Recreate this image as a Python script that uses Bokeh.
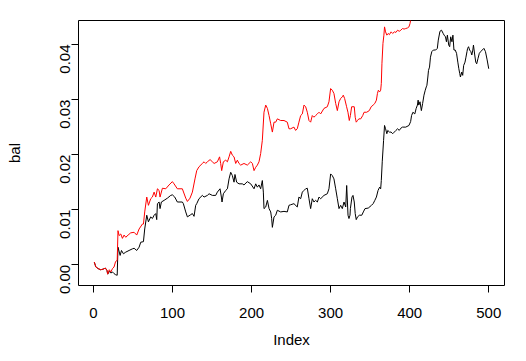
import math
from bokeh.plotting import figure
from bokeh.models import Range1d, FixedTicker, PrintfTickFormatter
from bokeh.embed import file_html
from bokeh.resources import INLINE

# ---- data ----
x_ticks = [0, 100, 200, 300, 400, 500]
y_ticks = [0.00, 0.01, 0.02, 0.03, 0.04]

red_idx = [1, 3, 6, 9, 12, 15, 17, 18, 20, 22, 24, 26, 28, 30, 31, 32.4, 34.5, 36.6, 38.7, 40.8,
           43.8, 47.1, 51.4, 54.7, 57.7, 61.9, 63.2, 64.8, 67.4, 69.5, 72.4, 74.5, 76.7, 78.8, 80.9,
           83.0, 84.2, 87.2, 91.4, 95.6, 99.8, 101.9, 106.1, 112.4, 116.7, 118.8, 122.1, 125.1, 128.4,
           130.6, 133.5, 137.7, 139.9, 142.0, 144.1, 147.5, 150.4, 152.6, 156.7, 159.5, 160.9, 162.2,
           164.3, 167.3, 169.4, 171.5, 173.6, 175.7, 177.8, 179.9, 182.0, 184.1, 186.2, 190.4, 194.6,
           198.9, 201.0, 203.1, 205.2, 207.3, 209.4, 211.5, 213.6, 215.7, 217.9, 220.0, 222.1, 224.2,
           226.3, 228.4, 230.5, 232.6, 236.8, 241.0, 245.2, 247.3, 249.4, 253.6, 255.7, 257.8, 259.9,
           262.1, 264.2, 266.3, 268.4, 270.5, 272.6, 274.7, 276.8, 278.9, 281.0, 283.2, 285.3, 287.4,
           291.6, 295.8, 297.9, 300.0, 302.1, 304.2, 306.4, 308.5, 310.6, 312.7, 314.8, 316.0, 317.7,
           320.2, 321.9, 323.6, 325.0, 326.6, 328.3, 329.9, 331.1, 332.4, 334.0, 335.7, 338.1, 340.6,
           342.3, 345.6, 348.9, 351.3, 353.8, 355.9, 357.9, 359.2, 360.4, 362.0, 363.3, 364.1, 364.9,
           366.2, 367.4, 368.2, 369.5, 371.1, 372.8, 374.4, 376.5, 378.5, 380.6, 382.6, 384.7, 386.8,
           388.8, 390.9, 392.9, 395.0, 397.1, 399.1, 400.4, 401.6, 404.0]
red_val = [0.0005, -0.0004, -0.0007, -0.0009, -0.0008, -0.0006, -0.0010, -0.0017, -0.0009, -0.0013,
           -0.0007, -0.0004, 0.0006, 0.0008, 0.0062, 0.0053, 0.0056, 0.0048, 0.0054, 0.0050,
           0.0054, 0.0058, 0.0059, 0.0054, 0.0065, 0.0074, 0.0074, 0.0096, 0.0123, 0.0108, 0.0120,
           0.0123, 0.0132, 0.0123, 0.0138, 0.0135, 0.0123, 0.0139, 0.0138, 0.0145, 0.0151, 0.0147,
           0.0138, 0.0138, 0.0121, 0.0115, 0.0121, 0.0132, 0.0156, 0.0171, 0.0178, 0.0184, 0.0187,
           0.0184, 0.0187, 0.0191, 0.0187, 0.0184, 0.0187, 0.0196, 0.0184, 0.0171, 0.0187, 0.0190,
           0.0187, 0.0196, 0.0206, 0.0199, 0.0196, 0.0184, 0.0190, 0.0184, 0.0181, 0.0184, 0.0181,
           0.0187, 0.0184, 0.0171, 0.0177, 0.0181, 0.0187, 0.0202, 0.0226, 0.0277, 0.0290, 0.0284,
           0.0271, 0.0256, 0.0241, 0.0259, 0.0259, 0.0265, 0.0262, 0.0262, 0.0259, 0.0247, 0.0247,
           0.0250, 0.0244, 0.0247, 0.0259, 0.0271, 0.0274, 0.0290, 0.0287, 0.0277, 0.0262, 0.0259,
           0.0271, 0.0268, 0.0271, 0.0274, 0.0277, 0.0274, 0.0284, 0.0287, 0.0296, 0.0320, 0.0317,
           0.0311, 0.0293, 0.0280, 0.0296, 0.0302, 0.0305, 0.0308, 0.0302, 0.0287, 0.0277, 0.0262,
           0.0271, 0.0287, 0.0287, 0.0287, 0.0268, 0.0259, 0.0262, 0.0265, 0.0265, 0.0271, 0.0277,
           0.0277, 0.0280, 0.0287, 0.0290, 0.0293, 0.0299, 0.0311, 0.0317, 0.0314, 0.0317, 0.0329,
           0.0365, 0.0402, 0.0417, 0.0432, 0.0423, 0.0417, 0.0420, 0.0418, 0.0423, 0.0420, 0.0423,
           0.0422, 0.0426, 0.0424, 0.0426, 0.0429, 0.0428, 0.0429, 0.0430, 0.0432, 0.0438, 0.0447,
           0.0460]

black_idx = [1, 3, 6, 9, 12, 15, 17, 18, 20, 22, 24, 26, 28, 30, 31, 33.7, 35.4, 37.9, 40.8, 45.0,
             49.3, 51.4, 54.7, 57.7, 59.8, 63.2, 64.8, 67.4, 69.5, 72.4, 74.5, 76.7, 78.8, 80.0, 80.9,
             83.0, 84.2, 85.9, 89.3, 93.5, 97.7, 99.8, 102.8, 106.1, 112.4, 113.7, 116.7, 118.8, 123.0,
             125.1, 127.2, 129.3, 130.6, 133.5, 137.7, 139.9, 144.1, 146.2, 150.4, 154.6, 156.7, 160.1,
             161.8, 162.6, 164.3, 167.3, 169.4, 171.5, 173.6, 175.7, 177.8, 179.0, 181.1, 184.1, 188.3,
             190.4, 194.6, 198.9, 203.1, 205.2, 207.3, 209.4, 211.5, 213.6, 214.9, 215.7, 217.9, 220.0,
             222.1, 224.2, 225.4, 226.3, 228.4, 230.5, 232.6, 236.8, 241.0, 245.2, 247.3, 249.4, 253.6,
             257.8, 259.9, 262.1, 264.2, 266.3, 268.4, 270.5, 272.6, 274.7, 276.8, 278.9, 281.0, 283.2,
             285.3, 287.4, 291.6, 295.8, 297.9, 300.0, 302.1, 304.2, 306.4, 308.5, 310.6, 312.7, 314.8,
             316.9, 319.1, 320.3, 322.0, 323.2, 324.5, 325.0, 327.0, 328.3, 329.9, 331.1, 332.4, 334.0,
             336.5, 339.4, 341.4, 343.5, 347.6, 351.7, 353.8, 355.9, 357.9, 360.0, 362.0, 363.3, 364.1,
             365.3, 367.0, 368.2, 369.5, 371.1, 372.3, 374.4, 376.5, 378.5, 380.6, 382.6, 384.7, 386.8,
             388.8, 390.9, 395.0, 399.1, 401.2, 402.4, 404.1, 406.5, 408.2, 409.8, 410.7, 411.5, 413.1,
             414.8, 416.4, 418.1, 419.7, 421.0, 421.8, 423.0, 423.8, 425.1, 426.3, 428.0, 430.0, 432.9,
             435.0, 436.2, 438.3, 440.3, 442.4, 443.6, 445.3, 446.5, 447.7, 449.4, 450.6, 451.9, 453.5,
             454.7, 456.0, 457.6, 459.3, 460.9, 462.2, 463.4, 464.2, 465.9, 467.1, 468.3, 470.0, 471.2,
             472.5, 473.3, 474.5, 475.8, 477.4, 478.6, 479.9, 480.7, 482.3, 483.6, 484.8, 486.5, 488.1,
             489.8, 491.8, 493.9, 495.9, 498.0, 500.0]
black_val = [0.0005, -0.0004, -0.0007, -0.0009, -0.0008, -0.0006, -0.0010, -0.0017, -0.0012, -0.0015,
             -0.0013, -0.0016, -0.0018, -0.0019, 0.0032, 0.0017, 0.0026, 0.0020, 0.0023, 0.0026,
             0.0029, 0.0030, 0.0026, 0.0032, 0.0041, 0.0042, 0.0065, 0.0090, 0.0078, 0.0087, 0.0084,
             0.0090, 0.0093, 0.0082, 0.0111, 0.0114, 0.0102, 0.0114, 0.0117, 0.0121, 0.0126, 0.0127,
             0.0123, 0.0114, 0.0114, 0.0111, 0.0096, 0.0087, 0.0091, 0.0093, 0.0088, 0.0108, 0.0111,
             0.0120, 0.0126, 0.0123, 0.0126, 0.0129, 0.0126, 0.0126, 0.0132, 0.0138, 0.0123, 0.0114,
             0.0129, 0.0135, 0.0138, 0.0156, 0.0168, 0.0162, 0.0150, 0.0164, 0.0150, 0.0147, 0.0147,
             0.0145, 0.0151, 0.0147, 0.0138, 0.0147, 0.0141, 0.0145, 0.0138, 0.0153, 0.0132, 0.0102,
             0.0105, 0.0117, 0.0102, 0.0096, 0.0084, 0.0068, 0.0087, 0.0090, 0.0099, 0.0096, 0.0097,
             0.0096, 0.0108, 0.0109, 0.0111, 0.0105, 0.0123, 0.0120, 0.0132, 0.0135, 0.0138, 0.0139,
             0.0120, 0.0102, 0.0120, 0.0114, 0.0117, 0.0114, 0.0123, 0.0120, 0.0126, 0.0129, 0.0138,
             0.0165, 0.0162, 0.0156, 0.0138, 0.0120, 0.0102, 0.0108, 0.0102, 0.0114, 0.0105, 0.0144,
             0.0090, 0.0084, 0.0090, 0.0102, 0.0123, 0.0126, 0.0114, 0.0093, 0.0082, 0.0087, 0.0090,
             0.0090, 0.0096, 0.0102, 0.0103, 0.0108, 0.0111, 0.0117, 0.0123, 0.0135, 0.0141, 0.0138,
             0.0153, 0.0187, 0.0226, 0.0253, 0.0247, 0.0238, 0.0244, 0.0241, 0.0241, 0.0238, 0.0241,
             0.0244, 0.0247, 0.0244, 0.0248, 0.0250, 0.0250, 0.0253, 0.0260, 0.0271, 0.0277, 0.0274,
             0.0284, 0.0290, 0.0299, 0.0290, 0.0296, 0.0280, 0.0293, 0.0308, 0.0317, 0.0323, 0.0326,
             0.0341, 0.0353, 0.0359, 0.0377, 0.0387, 0.0390, 0.0390, 0.0393, 0.0408, 0.0424, 0.0426,
             0.0420, 0.0417, 0.0414, 0.0405, 0.0417, 0.0399, 0.0396, 0.0414, 0.0405, 0.0417, 0.0390,
             0.0390, 0.0384, 0.0368, 0.0356, 0.0347, 0.0341, 0.0350, 0.0344, 0.0362, 0.0368, 0.0377,
             0.0387, 0.0393, 0.0396, 0.0390, 0.0387, 0.0381, 0.0390, 0.0399, 0.0381, 0.0368, 0.0365,
             0.0375, 0.0384, 0.0387, 0.0390, 0.0393, 0.0387, 0.0372, 0.0356]

FONT = "Liberation Sans"

p = figure(width=526, height=361, output_backend="svg", toolbar_location=None,
           x_range=Range1d(-18.96, 519.96), y_range=Range1d(-0.00376, 0.04436),
           min_border_left=78, min_border_right=22, min_border_top=20, min_border_bottom=76,
           background_fill_color="white", border_fill_color="white")
p.grid.visible = False
p.outline_line_color = "black"
p.outline_line_width = 1
p.outline_line_alpha = 1.0

p.line(black_idx, black_val, line_color="black", line_width=1)
p.line(red_idx, red_val, line_color="red", line_width=1)

for ax in (p.xaxis[0], p.yaxis[0]):
    ax.axis_line_color = None
    ax.major_tick_in = 0
    ax.major_tick_out = 7
    ax.major_tick_line_color = "black"
    ax.minor_tick_line_color = None
    ax.major_label_text_font = FONT
    ax.major_label_text_font_size = "15px"
    ax.major_label_text_color = "black"
    ax.axis_label_text_font = FONT
    ax.axis_label_text_font_size = "15px"
    ax.axis_label_text_font_style = "normal"
    ax.axis_label_text_color = "black"

p.xaxis.ticker = FixedTicker(ticks=x_ticks)
p.yaxis.ticker = FixedTicker(ticks=y_ticks)
p.yaxis.formatter = PrintfTickFormatter(format="%.2f")
p.yaxis.major_label_orientation = math.pi / 2
p.xaxis.axis_label = "Index"
p.yaxis.axis_label = "bal"
p.xaxis.major_label_standoff = 15
p.xaxis.axis_label_standoff = 10
p.yaxis.major_label_standoff = 6
p.yaxis.axis_label_standoff = 30

open("out.html", "w").write(file_html(p, INLINE))
